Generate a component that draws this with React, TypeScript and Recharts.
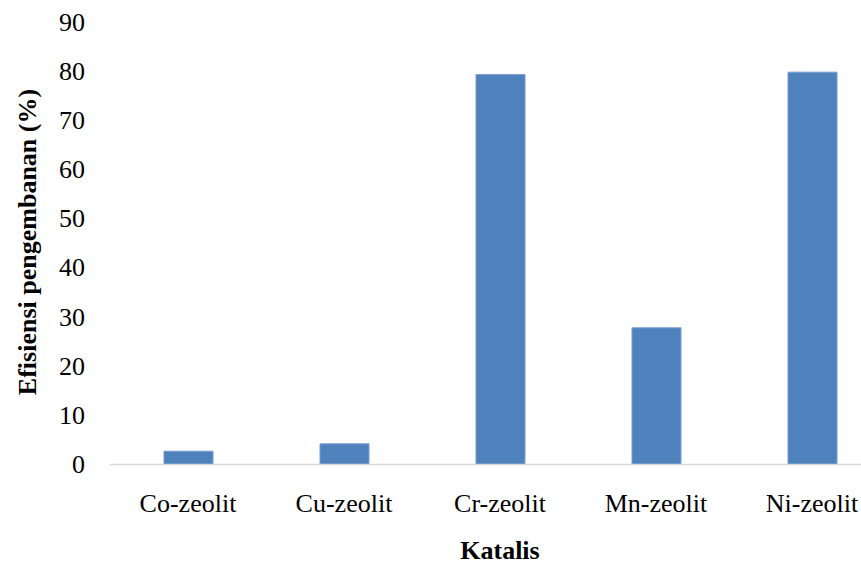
import React from "react";
import { BarChart, Bar, XAxis, YAxis } from "recharts";

const categories = ["Co-zeolit", "Cu-zeolit", "Cr-zeolit", "Mn-zeolit", "Ni-zeolit"];
const efficiency = [2.7, 4.2, 79.3, 27.8, 79.8];
const yTicks = [0, 10, 20, 30, 40, 50, 60, 70, 80, 90];

const data = categories.map((name, i) => ({ name, value: efficiency[i] }));

const FONT = '"Liberation Serif", "Times New Roman", serif';

const XTick = (props: any) => {
  const { x, y, payload } = props;
  return (
    <text x={x} y={y + 47.5} textAnchor="middle" fontFamily={FONT} fontSize={26} fill="#000">
      {payload.value}
    </text>
  );
};

const YTick = (props: any) => {
  const { x, y, payload } = props;
  return (
    <text x={x - 25} y={y + 8.5} textAnchor="end" fontFamily={FONT} fontSize={26} fill="#000">
      {payload.value}
    </text>
  );
};

export default function App() {
  return (
    <div style={{ position: "absolute", left: 0, top: 0, width: 861, height: 566, overflow: "hidden", background: "#fff" }}>
      <BarChart
        width={900}
        height={566}
        data={data}
        margin={{ top: 22, right: 10, bottom: 0, left: 0 }}
      >
        <XAxis
          dataKey="name"
          height={101.5}
          tickLine={false}
          tickSize={0}
          tickMargin={0}
          axisLine={{ stroke: "#d9d9d9", strokeWidth: 1.5 }}
          tick={<XTick />}
          interval={0}
        />
        <YAxis
          width={110}
          domain={[0, 90]}
          ticks={yTicks}
          axisLine={false}
          tickLine={false}
          tickSize={0}
          tickMargin={0}
          tick={<YTick />}
          interval={0}
        />
        <Bar dataKey="value" fill="#4F81BD" stroke="#7A9ED0" strokeWidth={1} barSize={49} isAnimationActive={false} />
        <text
          x={500}
          y={559}
          textAnchor="middle"
          fontFamily={FONT}
          fontSize={26}
          fontWeight="bold"
          fill="#000"
        >
          Katalis
        </text>
        <text
          x={0}
          y={0}
          transform="translate(36, 242) rotate(-90)"
          textAnchor="middle"
          fontFamily={FONT}
          fontSize={26}
          fontWeight="bold"
          fill="#000"
        >
          Efisiensi pengembanan (%)
        </text>
      </BarChart>
    </div>
  );
}
